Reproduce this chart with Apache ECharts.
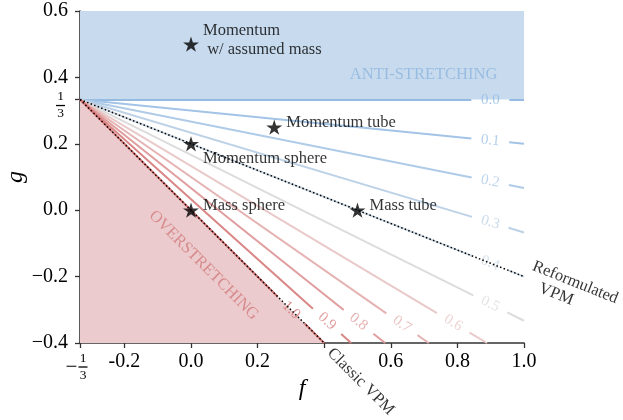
<!DOCTYPE html>
<html>
<head>
<meta charset="utf-8">
<script src="https://cdn.jsdelivr.net/npm/echarts@6/dist/echarts.min.js"></script>
<style>
  html, body { margin: 0; padding: 0; background: #ffffff; }
  #chart { width: 623px; height: 420px; }
</style>
</head>
<body>
<div id="chart"></div>
<script>
// Stretching-parameter plane (f, g) with lines of constant stretching level.

// --- data ---------------------------------------------------------------
const apexF = -1 / 3;
const apexG = 1 / 3;

const contourLevels = [0.0, 0.1, 0.2, 0.3, 0.4, 0.5, 0.6, 0.7, 0.8, 0.9, 1.0];
// point where each level line leaves the plotting window
const contourEndF = [1.0, 1.0, 1.0, 1.0, 1.0, 1.0, 0.889, 0.714, 0.583, 0.481, 0.4];
const contourEndG = [0.333, 0.2, 0.067, -0.067, -0.2, -0.333, -0.4, -0.4, -0.4, -0.4, -0.4];

// anti-stretching limit (g = 1/3) and the two VPM schemes
const antiF = [-1 / 3, 1.0];
const antiG = [1 / 3, 1 / 3];
const classicF = [-1 / 3, 0.4];
const classicG = [1 / 3, -0.4];
const reformF = [-1 / 3, 1.0];
const reformG = [1 / 3, -0.2];

const caseNames = ['Momentum\n w/ assumed mass', 'Momentum tube', 'Momentum sphere', 'Mass sphere', 'Mass tube'];
const caseF = [0.0, 0.25, 0.0, 0.0, 0.5];
const caseG = [0.5, 0.25, 0.2, 0.0, 0.0];

const xTicks = [-1 / 3, -0.2, 0.0, 0.2, 0.4, 0.6, 0.8, 1.0];
const xTickLabels = ['FRAC', '-0.2', '0.0', '0.2', '', '0.6', '0.8', '1.0'];
const yTicks = [-0.4, -0.2, 0.0, 0.2, 1 / 3, 0.4, 0.6];
const yTickLabels = ['\u22120.4', '\u22120.2', '0.0', '0.2', 'FRAC', '0.4', '0.6'];

// --- styling ------------------------------------------------------------
const SERIF = '"Liberation Serif", "Times New Roman", serif';
const contourColors = ['#95bbe3', '#a3c4e6', '#b0cbe7', '#bdd2e6', '#cbd8e4', '#dcdcdc',
                       '#eac9c9', '#e6b3b3', '#e19d9d', '#db8686', '#d57070'];
// where along each line (0 = apex, 1 = edge) its inline label sits
const contourLabelAt = [0.924, 0.924, 0.924, 0.924, 0.924, 0.924, 0.917, 0.923, 0.913, 0.911, 0.865];
const LABEL_GAP = 19; // half gap in px around each inline label
const caseLabelOffsets = [[12, -4.5], [12, -4.5], [12, 14.5], [12, -4.5], [12, -4.5]];

const xMin = -1 / 3, xMax = 1.0, yMin = -0.4, yMax = 0.6;
const grid = { left: 80, right: 99, top: 11, bottom: 77, outerBoundsMode: 'none', containLabel: false };
const pxF = (623 - grid.left - grid.right) / (xMax - xMin);
const pxG = (420 - grid.top - grid.bottom) / (yMax - yMin);

// line segments with a gap for the label, plus label anchors
const segments = [];
const levelLabels = [];
contourLevels.forEach((c, i) => {
  const f1 = contourEndF[i], g1 = contourEndG[i];
  const dxp = (f1 - apexF) * pxF, dyp = (g1 - apexG) * pxG;
  const len = Math.hypot(dxp, dyp);
  const t = contourLabelAt[i], dt = LABEL_GAP / len;
  const at = s => [apexF + (f1 - apexF) * s, apexG + (g1 - apexG) * s];
  const col = contourColors[i];
  segments.push({ coords: [at(0), at(t - dt)], lineStyle: { color: col } });
  segments.push({ coords: [at(t + dt), at(1)], lineStyle: { color: col } });
  levelLabels.push({
    value: at(t),
    name: c.toFixed(1),
    label: { rotate: Math.atan2(dyp, dxp) * 180 / Math.PI, color: col }
  });
});

function starPath() {
  let d = '';
  for (let k = 0; k < 10; k++) {
    const r = k % 2 ? 0.382 : 1;
    const a = -Math.PI / 2 + k * Math.PI / 5;
    d += (k ? 'L' : 'M') + (r * Math.cos(a)).toFixed(4) + ' ' + (r * Math.sin(a)).toFixed(4) + ' ';
  }
  return 'path://' + d + 'Z';
}

function near(a, b) { return Math.abs(a - b) < 1e-6; }
function tickText(v, ticks, labels, frac) {
  for (let i = 0; i < ticks.length; i++) {
    if (near(v, ticks[i])) return labels[i] === 'FRAC' ? frac : labels[i];
  }
  return '';
}

const fracTok = { fontFamily: SERIF, color: '#000', align: 'center' };
const xRich = {
  sp: { width: 14, fontSize: 1, lineHeight: 1, align: 'center' },
  rp: { width: 8, fontSize: 1, lineHeight: 1, align: 'center' },
  n: Object.assign({ width: 9, fontSize: 13.5, lineHeight: 13 }, fracTok),
  d: Object.assign({ width: 9, fontSize: 13.5, lineHeight: 11 }, fracTok),
  m: Object.assign({ width: 14, fontSize: 21, lineHeight: 5 }, fracTok),
  bar: { width: 9, height: 1.3, lineHeight: 5, fontSize: 1, backgroundColor: '#000', align: 'center' }
};
const yRich = {
  pad: { width: 12, fontSize: 1, lineHeight: 10, align: 'center' },
  rp: { width: 3, fontSize: 1, lineHeight: 1, align: 'center' },
  n: Object.assign({ width: 9, fontSize: 13.5, lineHeight: 13 }, fracTok),
  d: Object.assign({ width: 9, fontSize: 13.5, lineHeight: 11 }, fracTok),
  bar: { width: 9, height: 1.3, lineHeight: 5, fontSize: 1, backgroundColor: '#000', align: 'center' }
};
const xFrac = '{sp| }{n|1}{rp| }\n{m|\u2212}{bar| }{rp| }\n{sp| }{d|3}{rp| }';
const yFrac = '{pad| }\n{n|1}{rp| }\n{bar| }{rp| }\n{d|3}{rp| }';

const axisColor = '#333333';
const chart = echarts.init(document.getElementById('chart'), null, { renderer: 'canvas' });

const option = {
  animation: false,
  backgroundColor: '#ffffff',
  grid: grid,
  xAxis: {
    type: 'value', min: xMin, max: xMax,
    splitLine: { show: false },
    axisLine: { onZero: false, lineStyle: { color: axisColor, width: 1.6 } },
    axisTick: { customValues: xTicks, length: 5, lineStyle: { color: axisColor, width: 1.3 } },
    axisLabel: {
      customValues: xTicks, margin: 8.5,
      fontFamily: SERIF, fontSize: 20, color: '#000',
      formatter: v => tickText(v, xTicks, xTickLabels, xFrac),
      rich: xRich
    },
    name: 'f', nameLocation: 'middle', nameGap: 34, nameMoveOverlap: false,
    nameTextStyle: { fontFamily: SERIF, fontStyle: 'italic', fontSize: 24, color: '#000' }
  },
  yAxis: {
    type: 'value', min: yMin, max: yMax,
    splitLine: { show: false },
    axisLine: { onZero: false, lineStyle: { color: axisColor, width: 1.6 } },
    axisTick: { customValues: yTicks, length: 5, lineStyle: { color: axisColor, width: 1.3 } },
    axisLabel: {
      customValues: yTicks, margin: 12,
      fontFamily: SERIF, fontSize: 20, color: '#000',
      formatter: v => tickText(v, yTicks, yTickLabels, yFrac),
      rich: yRich
    },
    name: 'g', nameLocation: 'middle', nameGap: 52, nameRotate: 90, nameMoveOverlap: false,
    nameTextStyle: { fontFamily: SERIF, fontStyle: 'italic', fontSize: 24, color: '#000' }
  },
  series: [
    { // anti-stretching region above g = 1/3
      type: 'line', silent: true, z: 1, showSymbol: false,
      data: antiF.map((f, i) => [f, antiG[i]]),
      lineStyle: { width: 0 },
      areaStyle: { color: '#c8dbee', opacity: 1, origin: 'end' }
    },
    { // over-stretching region below the classic VPM line
      type: 'line', silent: true, z: 1, showSymbol: false,
      data: classicF.map((f, i) => [f, classicG[i]]),
      lineStyle: { width: 0 },
      areaStyle: { color: '#ebcbcd', opacity: 1, origin: 'start' }
    },
    { // level lines
      type: 'lines', coordinateSystem: 'cartesian2d', silent: true, z: 2,
      lineStyle: { width: 2, opacity: 1, curveness: 0 },
      data: segments
    },
    { // inline level labels
      type: 'scatter', silent: true, z: 3, clip: false,
      symbolSize: 0, itemStyle: { color: 'rgba(0,0,0,0)' },
      label: {
        show: true, position: 'inside', formatter: p => p.name, textBorderWidth: 0,
        fontFamily: SERIF, fontSize: 15, align: 'center', verticalAlign: 'middle'
      },
      data: levelLabels
    },
    { // classic VPM
      type: 'line', silent: true, z: 4, showSymbol: false,
      data: classicF.map((f, i) => [f, classicG[i]]),
      lineStyle: { color: '#000', width: 1.5, type: [1.5, 2.3] }
    },
    { // reformulated VPM
      type: 'line', silent: true, z: 4, showSymbol: false,
      data: reformF.map((f, i) => [f, reformG[i]]),
      lineStyle: { color: '#000', width: 1.5, type: [1.5, 2.3] }
    },
    { // test cases
      type: 'scatter', silent: true, z: 5,
      symbol: starPath(), symbolKeepAspect: true, symbolSize: 16,
      itemStyle: { color: '#000' },
      data: caseNames.map((n, i) => ({
        name: n, value: [caseF[i], caseG[i]],
        label: { offset: caseLabelOffsets[i] }
      })),
      label: {
        show: true, position: 'inside', align: 'left', verticalAlign: 'middle', textBorderWidth: 0,
        formatter: p => p.name, fontFamily: SERIF, fontSize: 16.5, lineHeight: 19, color: '#000'
      }
    },
    { // region and scheme annotations
      type: 'scatter', silent: true, z: 5, clip: false,
      symbolSize: 0, itemStyle: { color: 'rgba(0,0,0,0)' },
      label: { show: true, position: 'inside', textBorderWidth: 0, fontFamily: SERIF, fontSize: 16.5, formatter: p => p.name },
      data: [
        { name: 'ANTI-STRETCHING', value: [0.92, 0.407],
          label: { align: 'right', verticalAlign: 'middle', color: '#8db5df' } },
        { name: 'OVERSTRETCHING', value: [0.038, -0.166],
          label: { align: 'center', verticalAlign: 'middle', rotate: -45, color: '#d27a7c' } },
        { name: 'Classic VPM', value: [0.435, -0.405],
          label: { align: 'left', verticalAlign: 'top', rotate: -45, color: '#000' } },
        { name: 'Reformulated\n{i|VPM}', value: [1.0375, -0.142],
          label: { align: 'left', verticalAlign: 'top', rotate: -21.8, color: '#000', lineHeight: 18,
                   rich: { i: { padding: [0, 0, 0, 14], fontFamily: SERIF, fontSize: 16.5, color: '#000', lineHeight: 18 } } } }
      ]
    }
  ]
};

chart.setOption(option);
</script>
</body>
</html>
